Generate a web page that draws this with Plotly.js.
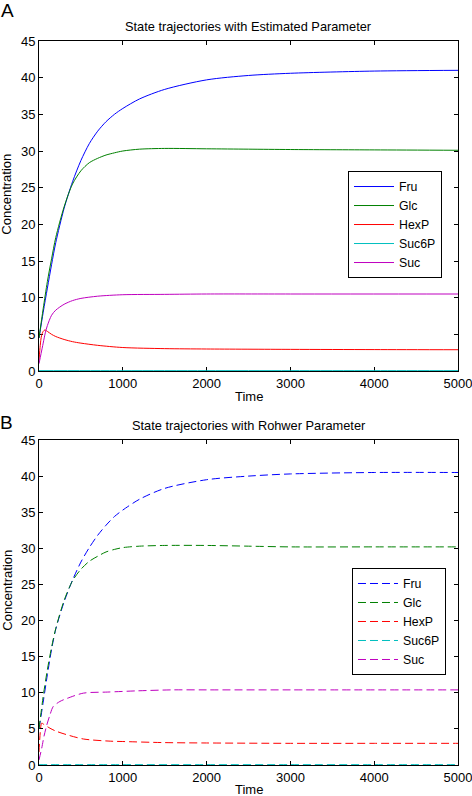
<!DOCTYPE html>
<html>
<head>
<meta charset="utf-8">
<script src="https://cdn.plot.ly/plotly-3.0.1.min.js"></script>
<style>html,body{margin:0;padding:0;background:#fff;}#chart{width:472px;height:796px;}</style>
</head>
<body>
<div id="chart"></div>
<script>
// ---- Data ----
const seriesNames = ["Fru", "Glc", "HexP", "Suc6P", "Suc"];
const seriesColors = ["#0000ff", "#008000", "#ff0000", "#00bfbf", "#bf00bf"];

// Panel A: estimated parameter
const tA_main = [0, 50, 100, 150, 200, 300, 400, 500, 600, 700, 800, 900, 1000, 1200, 1500, 2000, 2500, 3000, 4000, 5000];
const fruA = [4.5, 8.0, 11.3, 14.5, 17.5, 22.2, 25.8, 28.7, 31.0, 32.7, 34.0, 35.0, 35.8, 37.1, 38.4, 39.7, 40.3, 40.6, 40.9, 41.0];
const glcA = [4.5, 8.5, 12.2, 15.3, 18.2, 22.4, 25.5, 27.3, 28.4, 29.0, 29.45, 29.75, 30.0, 30.25, 30.35, 30.3, 30.25, 30.2, 30.15, 30.1];
const tA_hexp = [0, 15, 30, 50, 70, 100, 150, 200, 300, 400, 500, 700, 1000, 1500, 2000, 3000, 4000, 5000];
const hexpA = [1.5, 3.5, 4.8, 5.4, 5.6, 5.4, 5.0, 4.7, 4.3, 4.0, 3.8, 3.5, 3.2, 3.05, 3.0, 2.95, 2.92, 2.9];
const tA_suc6p = [0, 1000, 2000, 3000, 4000, 5000];
const suc6pA = [0.05, 0.05, 0.05, 0.05, 0.05, 0.05];
const tA_suc = [0, 25, 50, 75, 100, 150, 200, 300, 400, 500, 700, 1000, 1500, 2000, 3000, 5000];
const sucA = [1.0, 2.4, 3.8, 5.2, 6.2, 7.6, 8.3, 9.1, 9.6, 9.9, 10.2, 10.4, 10.45, 10.5, 10.5, 10.5];

// Panel B: Rohwer parameter
const tB_main = [0, 50, 100, 150, 200, 300, 400, 500, 600, 700, 800, 900, 1000, 1200, 1500, 2000, 2500, 3000, 4000, 5000];
const fruB = [5.0, 8.7, 12.5, 16.0, 18.8, 22.6, 25.6, 28.1, 30.1, 31.8, 33.2, 34.4, 35.3, 36.8, 38.3, 39.5, 40.0, 40.3, 40.5, 40.5];
const glcB = [5.0, 9.5, 13.2, 16.3, 18.9, 22.8, 25.5, 27.1, 28.2, 28.9, 29.5, 29.85, 30.1, 30.3, 30.4, 30.4, 30.3, 30.2, 30.2, 30.2];
const tB_hexp = [0, 15, 32, 60, 130, 200, 330, 530, 850, 1000, 1500, 2000, 3000, 4000, 5000];
const hexpB = [1.8, 4.5, 5.8, 5.6, 5.1, 4.7, 4.2, 3.6, 3.3, 3.25, 3.1, 3.05, 3.0, 3.0, 3.0];
const tB_suc6p = [0, 1000, 2000, 3000, 4000, 5000];
const suc6pB = [0.05, 0.05, 0.05, 0.05, 0.05, 0.05];
const tB_suc = [0, 32, 60, 92, 130, 170, 250, 330, 530, 820, 1180, 1580, 2000, 3000, 5000];
const sucB = [0.7, 2.3, 4.0, 5.5, 6.9, 8.1, 8.8, 9.2, 9.95, 10.1, 10.27, 10.4, 10.4, 10.4, 10.4];

const titleA = "State trajectories with Estimated Parameter";
const titleB = "State trajectories with Rohwer Parameter";
const xTicks = [0, 1000, 2000, 3000, 4000, 5000];
const yTicks = [0, 5, 10, 15, 20, 25, 30, 35, 40, 45];

// ---- Build traces ----
const panelA = [[tA_main, fruA], [tA_main, glcA], [tA_hexp, hexpA], [tA_suc6p, suc6pA], [tA_suc, sucA]];
const panelB = [[tB_main, fruB], [tB_main, glcB], [tB_hexp, hexpB], [tB_suc6p, suc6pB], [tB_suc, sucB]];
const traces = [];
panelA.forEach((d, i) => traces.push({
  x: d[0], y: d[1], name: seriesNames[i], type: "scatter", mode: "lines",
  line: {color: seriesColors[i], width: 1, shape: "spline", smoothing: 0.8},
  xaxis: "x", yaxis: "y", legend: "legend"
}));
panelB.forEach((d, i) => traces.push({
  x: d[0], y: d[1], name: seriesNames[i], type: "scatter", mode: "lines",
  line: {color: seriesColors[i], width: 1, dash: "8px,4px", shape: "spline", smoothing: 0.8},
  xaxis: "x2", yaxis: "y2", legend: "legend2"
}));

const FONT = "Liberation Sans, Arial, Helvetica, sans-serif";
const axisCommon = {
  showgrid: false, zeroline: false, showline: true, linecolor: "#000", linewidth: 1,
  mirror: "ticks", ticks: "inside", ticklen: 4, tickcolor: "#000", tickwidth: 1,
  tickfont: {family: FONT, size: 13, color: "#000"}, layer: "below traces", fixedrange: true,
  ticklabeloverflow: "allow"
};
const legendCommon = {
  bgcolor: "#fff", bordercolor: "#000", borderwidth: 1,
  font: {family: FONT, size: 12.3, color: "#000"}, xanchor: "left", yanchor: "top",
  itemwidth: 40, tracegroupgap: 0
};

const layout = {
  width: 472, height: 796,
  margin: {l: 39, r: 14, t: 41, b: 31, pad: 0},
  paper_bgcolor: "#fff", plot_bgcolor: "#fff",
  font: {family: FONT, size: 13, color: "#000"},
  showlegend: true,
  xaxis: Object.assign({}, axisCommon, {domain: [0, 1], anchor: "y", range: [0, 5000], tickvals: xTicks}),
  yaxis: Object.assign({}, axisCommon, {domain: [0.5442, 1], anchor: "x", range: [0, 45], tickvals: yTicks}),
  xaxis2: Object.assign({}, axisCommon, {domain: [0, 1], anchor: "y2", range: [0, 5000], tickvals: xTicks}),
  yaxis2: Object.assign({}, axisCommon, {domain: [0, 0.4489], anchor: "x2", range: [0, 45], tickvals: yTicks}),
  legend: Object.assign({}, legendCommon, {x: 0.7375, y: 0.8204}),
  legend2: Object.assign({}, legendCommon, {x: 0.747, y: 0.2721}),
  annotations: [
    {text: titleA, xref: "paper", yref: "paper", x: 0.5, y: 1.0207, xanchor: "center", yanchor: "middle", showarrow: false, font: {family: FONT, size: 12.8}},
    {text: titleB, xref: "paper", yref: "paper", x: 0.5, y: 0.4696, xanchor: "center", yanchor: "middle", showarrow: false, font: {family: FONT, size: 12.8}},
    {text: "A", xref: "paper", yref: "paper", x: -0.074, y: 1.0428, xanchor: "center", yanchor: "middle", showarrow: false, font: {family: FONT, size: 19}},
    {text: "B", xref: "paper", yref: "paper", x: -0.0787, y: 0.4724, xanchor: "center", yanchor: "middle", showarrow: false, font: {family: FONT, size: 19}},
    {text: "Time", xref: "paper", yref: "paper", x: 0.5, y: 0.5083, xanchor: "center", yanchor: "middle", showarrow: false, font: {family: FONT, size: 13}},
    {text: "Time", xref: "paper", yref: "paper", x: 0.5, y: -0.0334, xanchor: "center", yanchor: "middle", showarrow: false, font: {family: FONT, size: 13}},
    {text: "Concentration", xref: "paper", yref: "paper", x: -0.0771, y: 0.7887, xanchor: "center", yanchor: "middle", textangle: -90, showarrow: false, font: {family: FONT, size: 13}},
    {text: "Concentration", xref: "paper", yref: "paper", x: -0.0771, y: 0.2417, xanchor: "center", yanchor: "middle", textangle: -90, showarrow: false, font: {family: FONT, size: 13}}
  ]
};

Plotly.newPlot("chart", traces, layout, {displayModeBar: false, staticPlot: true});
</script>
</body>
</html>
